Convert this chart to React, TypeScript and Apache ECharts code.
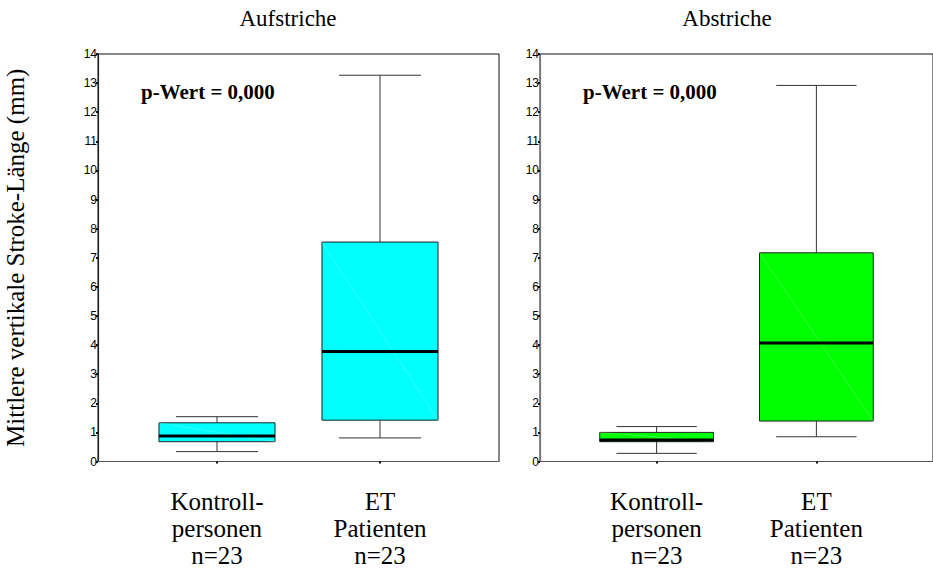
import React, { useEffect, useRef } from "react";
import * as echarts from "echarts";

// Group labels along the x axis (one per box)
const categories = ["Kontroll-\npersonen\nn=23", "ET\nPatienten\nn=23"];
const categoryPos = [0, 1];

// Box statistics: [lower whisker, Q1, median, Q3, upper whisker] in mm
const aufKontroll = [0.34, 0.68, 0.88, 1.33, 1.54];
const aufPatienten = [0.81, 1.42, 3.78, 7.54, 13.27];
const abKontroll = [0.28, 0.68, 0.74, 1.0, 1.2];
const abPatienten = [0.85, 1.39, 4.07, 7.17, 12.92];

const panelTitles = ["Aufstriche", "Abstriche"];
const pLabel = "p-Wert = 0,000";
const yTitle = "Mittlere vertikale Stroke-Länge (mm)";
const yMin = 0;
const yMax = 14;
const yStep = 1;

const SERIF = "Liberation Serif";
const SANS = "Liberation Sans";

const BOX_W = 0.712; // box width in x-axis units
const CAP_W = 0.503; // whisker cap width in x-axis units

function boxRenderer(fill: string) {
  return (params: any, api: any) => {
    const x = api.value(0);
    const lo = api.coord([x, api.value(1)]);
    const q1 = api.coord([x, api.value(2)]);
    const md = api.coord([x, api.value(3)]);
    const q3 = api.coord([x, api.value(4)]);
    const hi = api.coord([x, api.value(5)]);
    const hb = api.size([BOX_W, 0])[0] / 2;
    const hc = api.size([CAP_W, 0])[0] / 2;
    const cx = lo[0];
    const whisker = { stroke: "#333", lineWidth: 1 };
    return {
      type: "group",
      children: [
        { type: "line", shape: { x1: cx, y1: q3[1], x2: cx, y2: hi[1] }, style: whisker },
        { type: "line", shape: { x1: cx - hc, y1: hi[1], x2: cx + hc, y2: hi[1] }, style: whisker },
        { type: "line", shape: { x1: cx, y1: q1[1], x2: cx, y2: lo[1] }, style: whisker },
        { type: "line", shape: { x1: cx - hc, y1: lo[1], x2: cx + hc, y2: lo[1] }, style: whisker },
        {
          type: "rect",
          shape: { x: cx - hb, y: q3[1], width: hb * 2, height: q1[1] - q3[1] },
          style: { fill, stroke: "#222", lineWidth: 1 },
        },
        {
          type: "line",
          shape: { x1: cx - hb, y1: q3[1], x2: cx + hb, y2: q1[1] },
          style: { stroke: "rgba(255,255,255,0.35)", lineWidth: 0.6 },
        },
        {
          type: "line",
          shape: { x1: cx - hb, y1: md[1], x2: cx + hb, y2: md[1] },
          style: { stroke: "#000", lineWidth: 3 },
        },
      ],
    };
  };
}

function toRows(a: number[], b: number[]) {
  return [
    [categoryPos[0], ...a],
    [categoryPos[1], ...b],
  ];
}

export default function App() {
  const ref = useRef<HTMLDivElement>(null);

  useEffect(() => {
    if (!ref.current) return;
    const chart = echarts.init(ref.current, null, { renderer: "svg" });

    const grids = [
      { left: 98, top: 54, width: 401, height: 407.5 },
      { left: 540, top: 54, width: 401, height: 407.5 },
    ].map((g) => ({
      ...g,
      show: true,
      borderColor: "#111",
      borderWidth: 1,
      backgroundColor: "transparent",
    }));

    const xAxes = [0, 1].map((i) => ({
      type: "value",
      gridIndex: i,
      min: -0.73,
      max: 1.73,
      splitLine: { show: false },
      axisLine: { show: true, onZero: false, lineStyle: { color: "#555", width: 1.2 } },
      axisTick: { show: true, customValues: categoryPos, length: 2, lineStyle: { color: "#111", width: 2 } },
      axisLabel: { show: false },
    }));

    const yAxes = [0, 1].map((i) => ({
      type: "value",
      gridIndex: i,
      min: yMin,
      max: yMax,
      interval: yStep,
      name: i === 0 ? yTitle : "",
      nameLocation: "middle",
      nameRotate: 90,
      nameGap: 70,
      nameTextStyle: { fontFamily: SERIF, fontSize: 25, color: "#000" },
      splitLine: { show: false },
      axisLine: { show: true, onZero: false, lineStyle: { color: i === 0 ? "#222" : "#777", width: 1.2 } },
      axisTick: { show: true, length: 2, lineStyle: { color: "#111", width: 2 } },
      axisLabel: { fontFamily: SANS, fontSize: 12, color: "#000", margin: 1 },
    }));

    const graphics: any[] = [];
    const titleX = [288, 727];
    const pX = [141, 583];
    titleX.forEach((x, i) => {
      graphics.push({
        type: "text",
        x,
        y: 18,
        style: {
          text: panelTitles[i],
          font: `23px ${SERIF}`,
          fill: "#000",
          textAlign: "center",
          textVerticalAlign: "middle",
        },
      });
      graphics.push({
        type: "text",
        x: pX[i],
        y: 92,
        style: {
          text: pLabel,
          font: `bold 21px ${SERIF}`,
          fill: "#000",
          textAlign: "left",
          textVerticalAlign: "middle",
        },
      });
    });

    chart.setOption({
      animation: false,
      backgroundColor: "#fff",
      textStyle: { fontFamily: SERIF },
      grid: grids,
      xAxis: xAxes,
      yAxis: yAxes,
      graphic: graphics,
      series: [
        {
          type: "custom",
          name: panelTitles[0],
          xAxisIndex: 0,
          yAxisIndex: 0,
          renderItem: boxRenderer("#00ffff"),
          encode: { x: 0, y: [1, 2, 3, 4, 5] },
          data: toRows(aufKontroll, aufPatienten),
          clip: false,
        },
        {
          type: "custom",
          name: panelTitles[1],
          xAxisIndex: 1,
          yAxisIndex: 1,
          renderItem: boxRenderer("#00ff00"),
          encode: { x: 0, y: [1, 2, 3, 4, 5] },
          data: toRows(abKontroll, abPatienten),
          clip: false,
        },
      ],
    });

    // Group labels under each box, placed through the x axes' own scales
    const labelTop = 461.5 + 26;
    [0, 1].forEach((gi) => {
      categoryPos.forEach((pos, ci) => {
        const px = chart.convertToPixel({ xAxisIndex: gi }, pos) as number;
        graphics.push({
          type: "text",
          x: px,
          y: labelTop,
          style: {
            text: categories[ci],
            font: `25px ${SERIF}`,
            lineHeight: 27,
            fill: "#000",
            textAlign: "center",
            textVerticalAlign: "top",
          },
        });
      });
    });
    chart.setOption({ graphic: graphics });

    return () => chart.dispose();
  }, []);

  return (
    <div
      ref={ref}
      style={{ position: "fixed", left: 0, top: 0, width: 933, height: 573 }}
    />
  );
}
